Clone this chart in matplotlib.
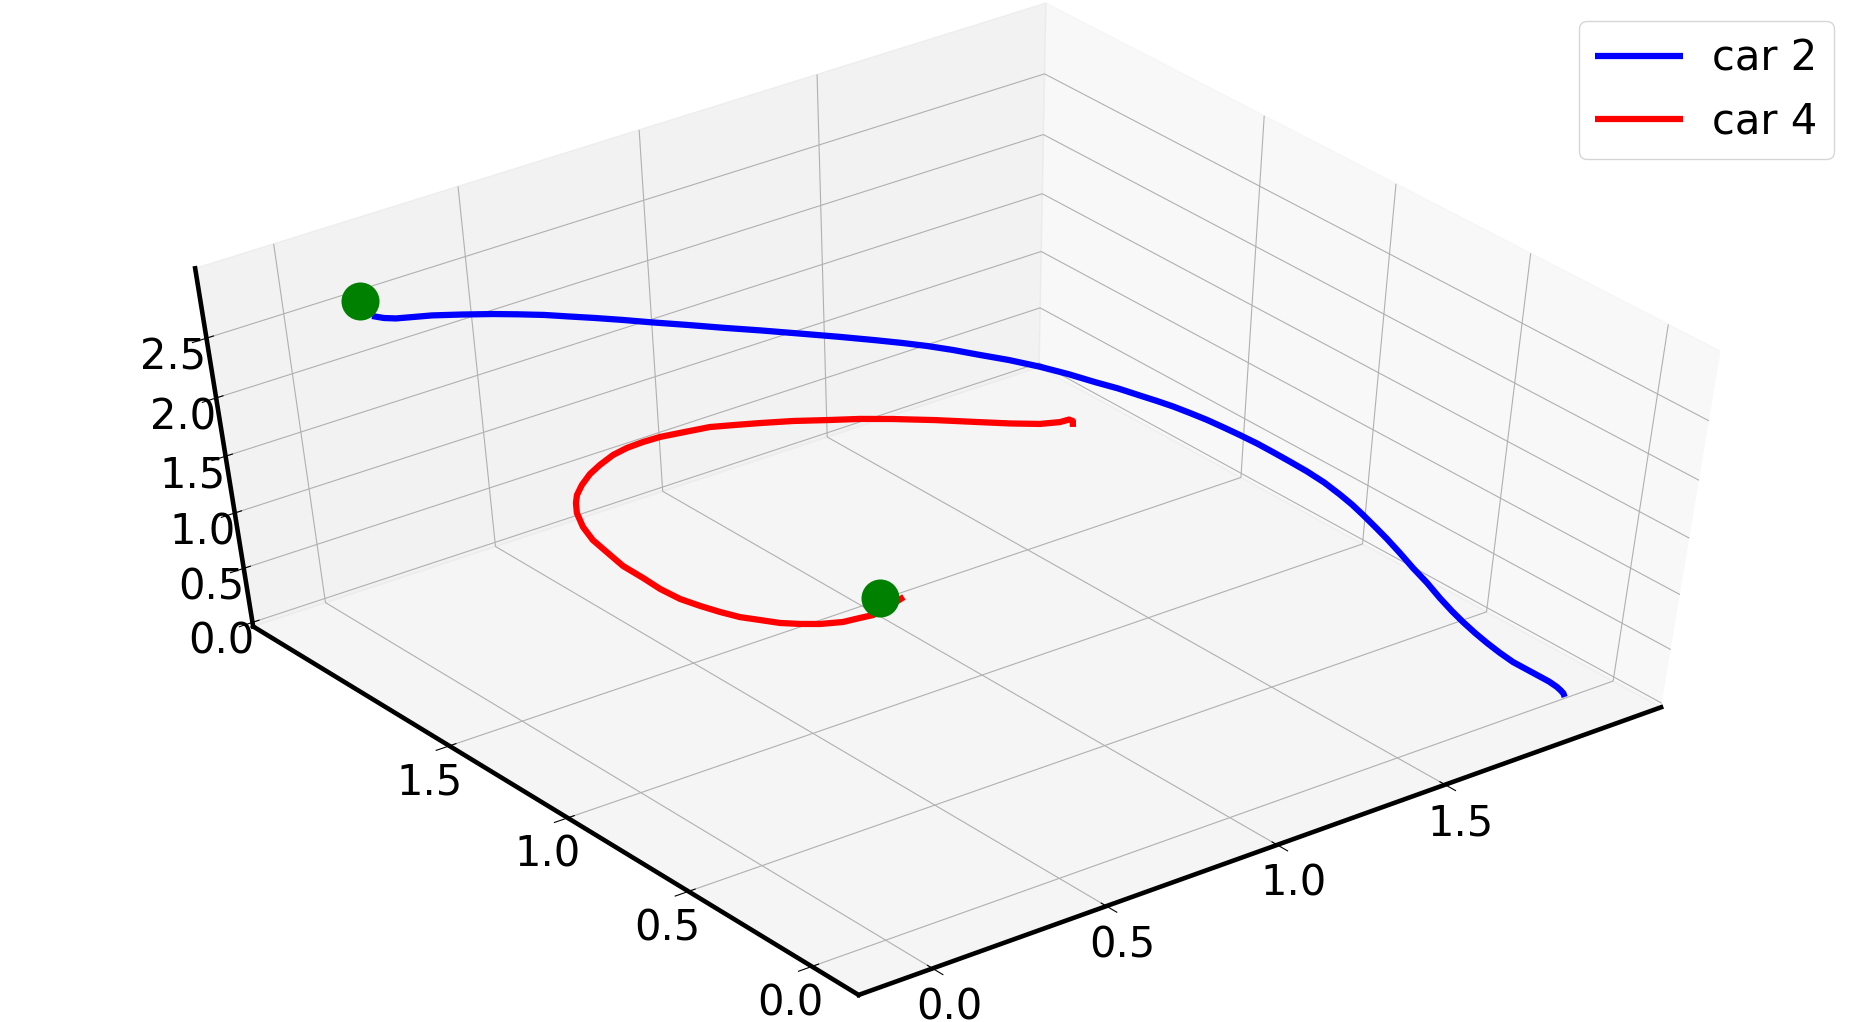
import matplotlib
matplotlib.use('Agg')
import matplotlib.pyplot as plt

car2_x = [0.080, 0.105, 0.132, 0.182, 0.229, 0.309, 0.387, 0.448, 0.514, 0.573, 0.631, 0.697, 0.762, 0.844, 0.929, 1.019, 1.108, 1.199,
          1.287, 1.345, 1.400, 1.457, 1.507, 1.569, 1.630, 1.682, 1.728, 1.769, 1.801, 1.830, 1.857, 1.878, 1.902, 1.923, 1.943, 1.962,
          1.974, 1.989, 2.007, 2.017, 2.021, 2.021, 2.018, 2.016, 2.008, 2.000, 1.989, 1.984, 1.972, 1.962, 1.961, 1.958, 1.958, 1.964,
          1.969, 1.981, 1.993, 2.001, 2.005, 2.004, 2.003, 1.997]
car2_y = [2.097, 2.088, 2.080, 2.084, 2.082, 2.083, 2.074, 2.065, 2.058, 2.041, 2.026, 2.009, 1.990, 1.964, 1.942, 1.917, 1.890, 1.860,
          1.830, 1.805, 1.780, 1.755, 1.722, 1.682, 1.643, 1.595, 1.548, 1.509, 1.464, 1.433, 1.404, 1.363, 1.325, 1.285, 1.246, 1.201,
          1.152, 1.103, 1.056, 0.999, 0.940, 0.890, 0.841, 0.790, 0.729, 0.666, 0.598, 0.533, 0.465, 0.403, 0.356, 0.303, 0.254, 0.209,
          0.163, 0.122, 0.085, 0.058, 0.031, 0.014, 0.002, -0.011]
car2_z = [2.70, 2.67, 2.65, 2.61, 2.58, 2.51, 2.45, 2.40, 2.34, 2.29, 2.24, 2.18, 2.12, 2.05, 1.97, 1.89, 1.81, 1.73, 1.65, 1.60, 1.55,
          1.49, 1.44, 1.38, 1.31, 1.25, 1.19, 1.14, 1.10, 1.06, 1.02, 0.99, 0.95, 0.91, 0.87, 0.83, 0.80, 0.76, 0.71, 0.67, 0.63, 0.60,
          0.57, 0.53, 0.50, 0.46, 0.42, 0.37, 0.33, 0.30, 0.26, 0.23, 0.20, 0.16, 0.13, 0.10, 0.07, 0.05, 0.03, 0.02, 0.01, 0.00]
car4_x = [1.995, 2.008, 2.002, 1.964, 1.896, 1.806, 1.715, 1.591, 1.470, 1.371, 1.268, 1.165, 1.064, 0.982, 0.904, 0.814, 0.727, 0.659,
          0.593, 0.532, 0.459, 0.399, 0.337, 0.287, 0.250, 0.211, 0.166, 0.127, 0.105, 0.062, 0.038, 0.015, -0.000, -0.006, -0.013, -0.014,
          -0.008, -0.003, 0.008, 0.025, 0.045, 0.069, 0.086, 0.117, 0.152]
car4_y = [1.988, 2.006, 2.014, 2.001, 1.993, 1.996, 2.007, 2.016, 2.024, 2.023, 2.016, 2.011, 2.004, 1.991, 1.982, 1.954, 1.931, 1.901,
          1.871, 1.838, 1.785, 1.737, 1.678, 1.624, 1.573, 1.511, 1.419, 1.320, 1.245, 1.100, 0.983, 0.880, 0.778, 0.690, 0.601, 0.521,
          0.450, 0.380, 0.318, 0.265, 0.207, 0.175, 0.149, 0.137, 0.126]
car4_z = [0.00, 0.02, 0.03, 0.06, 0.12, 0.21, 0.30, 0.43, 0.55, 0.65, 0.75, 0.85, 0.94, 1.02, 1.09, 1.17, 1.24, 1.30, 1.35, 1.39, 1.44,
          1.48, 1.52, 1.55, 1.58, 1.61, 1.65, 1.70, 1.74, 1.82, 1.89, 1.95, 2.01, 2.07, 2.14, 2.20, 2.26, 2.32, 2.38, 2.43, 2.50, 2.55,
          2.59, 2.64, 2.70]
goal_x = [0.105, 0.109]
goal_y = [2.183, 0.155]
goal_z = [2.70, 2.70]
x_ticks = [0, 0.5, 1.0, 1.5]
y_ticks = [0, 0.5, 1.0, 1.5]
z_ticks = [0, 0.5, 1.0, 1.5, 2.0, 2.5]

W, H = 1855, 1022
fig = plt.figure(figsize=(W/100, H/100), dpi=100)
ax = fig.add_axes([0, 0, 1, 1], projection='3d')
vl = ax.viewLim
cx, cy, sx, sy = 952.965, 495.2267, 9374.94, 5251.72
left = cx + sx*vl.x0; right = cx + sx*vl.x1
top = cy - sy*vl.y1; bot = cy - sy*vl.y0
ax.set_position([left/W, (H-bot)/H, (right-left)/W, (bot-top)/H])
ax.apply_aspect = lambda position=None: None
ax.patch.set_alpha(0)

ax.view_init(elev=50.7564, azim=-127.6827)
ax.set_proj_type('persp', focal_length=1.0379)
ax.set_box_aspect((1, 1.0011, 0.9642), zoom=1)

l2, = ax.plot(car2_x, car2_y, car2_z, color='b', lw=4.5, label='car 2', solid_capstyle='butt')
l4, = ax.plot(car4_x, car4_y, car4_z, color='r', lw=4.5, label='car 4', solid_capstyle='butt')
ax.scatter(goal_x, goal_y, goal_z, s=750, c='g', depthshade=False, zorder=5, linewidths=0)

ax.set_xlim(-0.2102, 2.1562); ax.set_ylim(-0.1868, 2.3526); ax.set_zlim(-0.0384, 3.0682)
ax.set_xticks(x_ticks); ax.set_yticks(y_ticks); ax.set_zticks(z_ticks)
ax.set_xticklabels(['0.0', '0.5', '1.0', '1.5'])
ax.set_yticklabels(['0.0', '0.5', '1.0', '1.5'])
ax.set_zticklabels(['0.0', '0.5', '1.0', '1.5', '2.0', '2.5'])
ax.tick_params(labelsize=30)
ax.tick_params(axis='x', pad=5); ax.tick_params(axis='y', pad=5); ax.tick_params(axis='z', pad=3.5)
for a in (ax.xaxis, ax.yaxis, ax.zaxis):
    a.line.set_color('k'); a.line.set_linewidth(3.3)
fig.legend(handles=[l2, l4], loc='upper right', bbox_to_anchor=(1834/W, 1-21/H), borderaxespad=0,
           fontsize=30, handlelength=2.1, handletextpad=0.7)
fig.savefig('out.png', dpi=100)
